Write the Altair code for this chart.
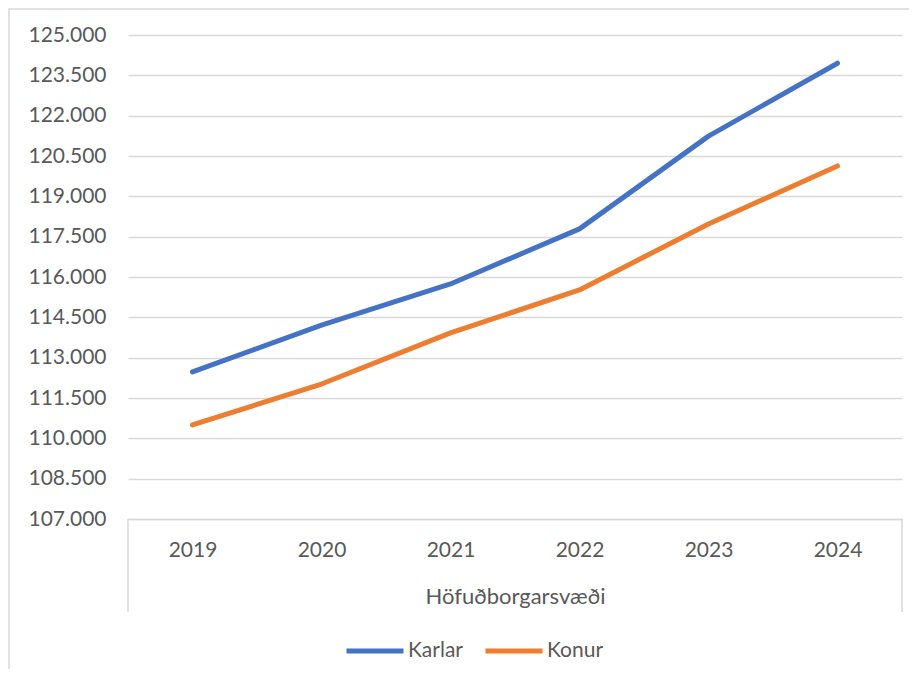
import altair as alt
import pandas as pd

years = ["2019", "2020", "2021", "2022", "2023", "2024"]
karlar = [112470, 114210, 115740, 117790, 121240, 123950]
konur = [110500, 112020, 113920, 115520, 117970, 120130]
series_names = ["Karlar", "Konur"]
series_colors = ["#4472C4", "#ED7D31"]
y_ticks = [107000 + 1500 * i for i in range(13)]
group_label = "Höfuðborgarsvæði"

rows = []
for name, vals in zip(series_names, [karlar, konur]):
    for yr, v in zip(years, vals):
        rows.append({"Ár": yr, "Gildi": v, "Kyn": name})
df = pd.DataFrame(rows)

W, H = 774, 484
FONT = "Lato"
GREY = "#595959"
LINE = "#d9d9d9"

lines = alt.Chart(df).mark_line(strokeWidth=5, strokeCap="round", strokeJoin="round").encode(
    x=alt.X(
        "Ár:O",
        sort=years,
        scale=alt.Scale(type="point", padding=0.5),
        axis=alt.Axis(
            title=group_label,
            labelAngle=0,
            ticks=False,
            grid=False,
            domainColor=LINE,
            domainWidth=1.5,
            labelPadding=20,
            labelFontSize=21,
            titleFontSize=22,
            titlePadding=26,
        ),
    ),
    y=alt.Y(
        "Gildi:Q",
        scale=alt.Scale(domain=[107000, 125000], nice=False, zero=False),
        axis=alt.Axis(
            title=None,
            values=y_ticks,
            labelExpr="replace(format(datum.value, ','), ',', '.')",
            domain=False,
            ticks=False,
            gridColor=LINE,
            gridWidth=1.5,
            labelPadding=22,
            labelFontSize=21,
        ),
    ),
    color=alt.Color(
        "Kyn:N",
        sort=series_names,
        scale=alt.Scale(domain=series_names, range=series_colors),
        legend=alt.Legend(
            title=None,
            orient="none",
            direction="horizontal",
            legendX=216,
            legendY=585,
            symbolType="stroke",
            symbolSize=3249,
            symbolStrokeWidth=5,
            labelOffset=2,
            columnPadding=12,
        ),
    ),
)

sep = pd.DataFrame({"side": [0, W]})
separators = alt.Chart(sep).mark_rule(color=LINE, strokeWidth=1.5).encode(
    x=alt.X("side:Q", scale=alt.Scale(domain=[0, W], range=[0, W]), axis=None),
    y=alt.value(H),
    y2=alt.value(H + 93),
)

frame = alt.Chart(pd.DataFrame({"f": [1]})).mark_rect(
    fill=None, stroke=LINE, strokeWidth=1.5, clip=False
).encode(
    x=alt.value(-119), x2=alt.value(W + 200), y=alt.value(-26), y2=alt.value(H + 300)
)

chart = (
    alt.layer(frame, lines, separators)
    .resolve_scale(x="independent")
    .properties(
        width=W,
        height=H,
        autosize=alt.AutoSizeParams(type="none"),
        padding={"left": 120, "top": 27, "right": 7, "bottom": 150},
    )
    .configure_view(stroke=None)
    .configure_axis(
        labelFont=FONT,
        titleFont=FONT,
        labelColor=GREY,
        titleColor=GREY,
        titleFontWeight="normal",
    )
    .configure_legend(labelFont=FONT, labelFontSize=21, labelColor=GREY)
)

chart.save("out.html", embed_options={"renderer": "svg", "actions": False})
